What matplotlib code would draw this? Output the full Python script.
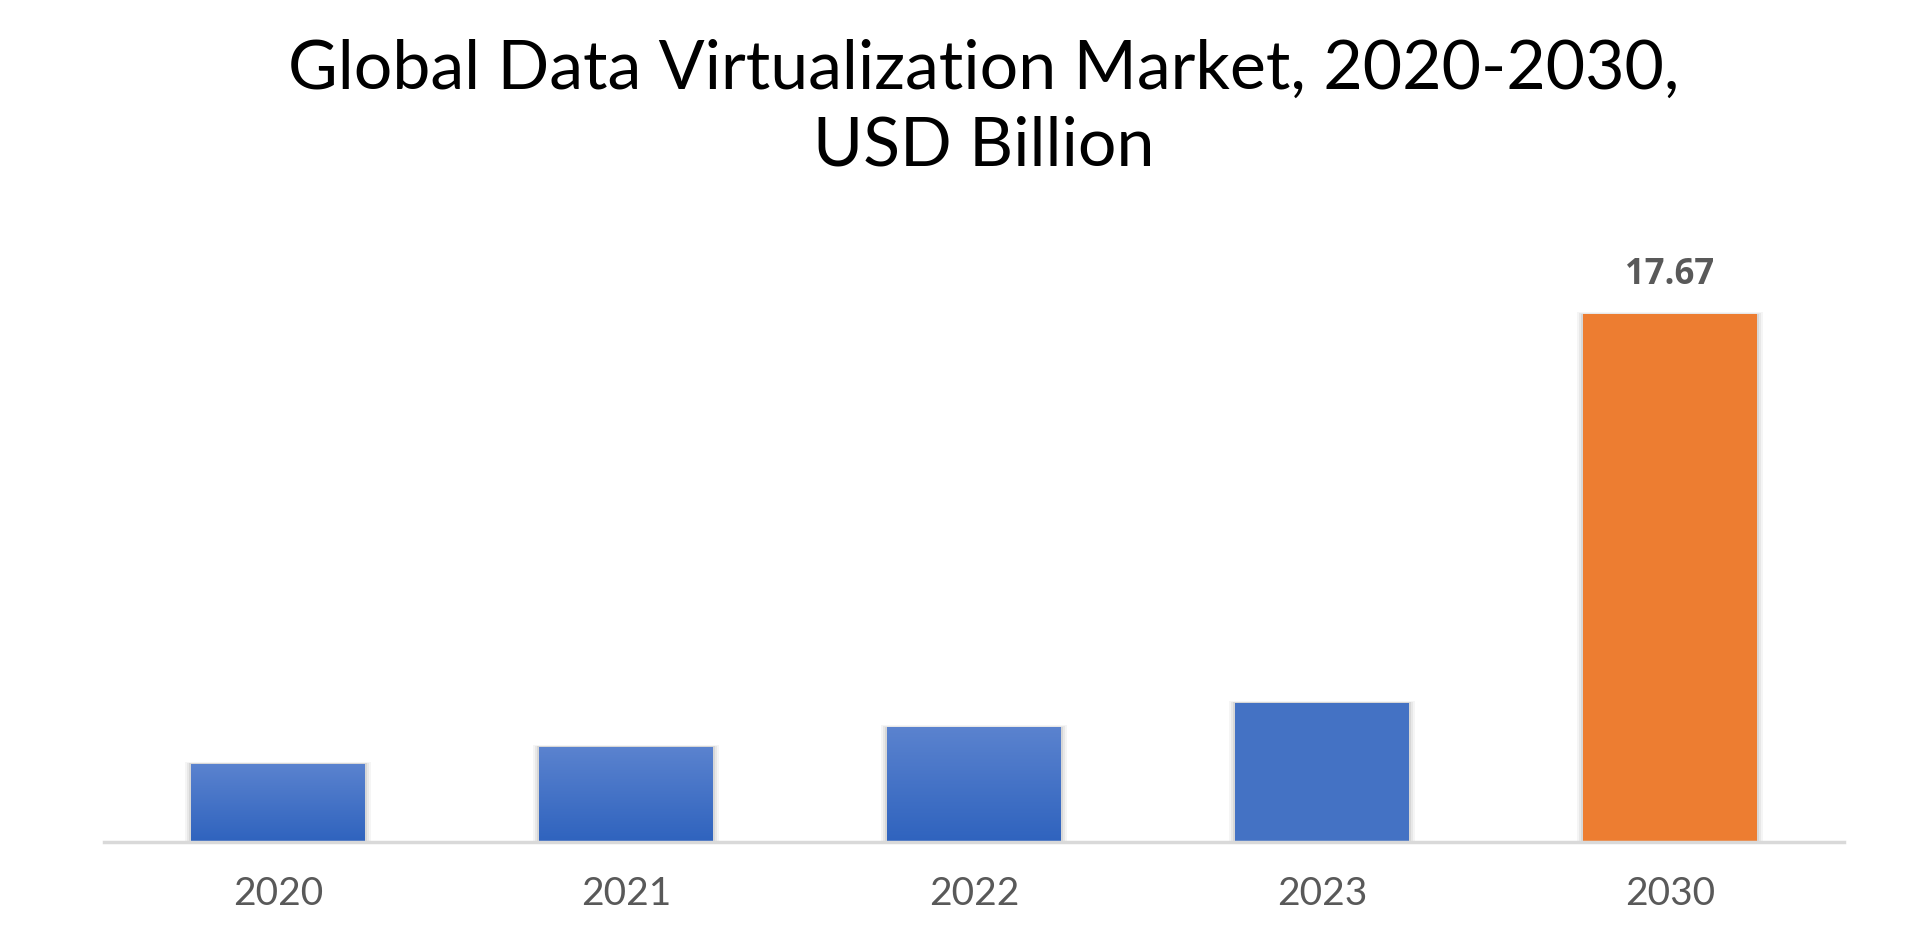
import matplotlib
matplotlib.use("Agg")
import matplotlib.pyplot as plt
import numpy as np

years = ["2020", "2021", "2022", "2023", "2030"]
values = [2.63, 3.20, 3.85, 4.67, 17.67]
bar_colors = ["#4472C4", "#4472C4", "#4472C4", "#4472C4", "#ED7D31"]
gradient_bars = [True, True, True, False, False]
labelled = {4: "17.67"}

fig = plt.figure(figsize=(19.2, 9.43), dpi=100)
ax = fig.add_axes([0.0542, 0.1066, 0.9062, 0.634])

x = np.arange(len(years))
width = 0.5

# soft shadow behind each bar
for off, alpha in [(0.035, 0.04), (0.022, 0.05), (0.01, 0.07)]:
    ax.bar(x, np.array(values) + off * 2, width=width + off, color="#000000",
           alpha=alpha, zorder=1, linewidth=0)

bars = ax.bar(x, values, width=width, color=bar_colors, zorder=2, linewidth=0)

# vertical gradient on the early blue bars
grad = np.linspace(0, 1, 256).reshape(-1, 1)
cmap = matplotlib.colors.LinearSegmentedColormap.from_list("blue", ["#2F63BE", "#5B83CF"])
for bar, use_grad in zip(bars, gradient_bars):
    if not use_grad:
        continue
    x0, y0 = bar.get_x(), bar.get_y()
    im = ax.imshow(grad, extent=[x0, x0 + bar.get_width(), y0, y0 + bar.get_height()],
                   origin="lower", cmap=cmap, aspect="auto", zorder=3)
    im.set_clip_path(bar)

for i, text in labelled.items():
    ax.text(x[i], values[i] + 1.3, text, ha="center", va="center", fontsize=25,
            fontweight="bold", color="#595959", family="Open Sans")

ax.set_xlim(-0.5, len(years) - 0.5)
ax.set_ylim(0, 20)
ax.set_xticks(x)
ax.set_xticklabels(years, fontsize=28, color="#595959", family="Lato")
ax.tick_params(axis="x", length=0, pad=24)
ax.set_yticks([])
for side in ["top", "right", "left"]:
    ax.spines[side].set_visible(False)
ax.spines["bottom"].set_color("#D9D9D9")
ax.spines["bottom"].set_linewidth(2.5)
ax.spines["bottom"].set_zorder(4)

fig.text(0.5125, 0.885, "Global Data Virtualization Market, 2020-2030,\nUSD Billion",
         ha="center", va="center", fontsize=49, color="#000000", family="Lato",
         linespacing=1.3)

fig.savefig("out.png", dpi=100, facecolor="white")
